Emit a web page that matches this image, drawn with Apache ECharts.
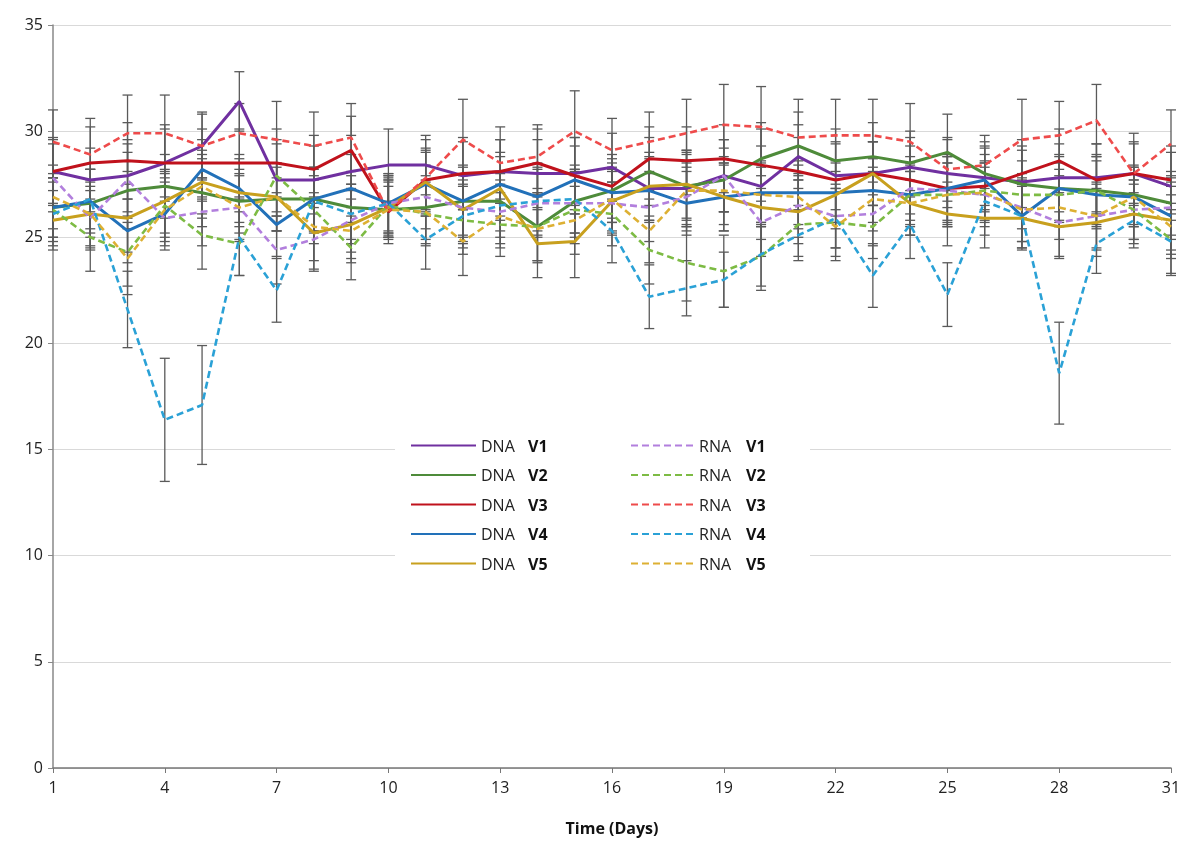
<!DOCTYPE html>
<html><head><meta charset="utf-8">
<script src="https://cdn.jsdelivr.net/npm/echarts@6/dist/echarts.min.js"></script>
<style>html,body{margin:0;padding:0;background:#fff}#c{width:1184px;height:846px}</style>
</head><body><div id="c"></div>
<script>
const days = [1,2,3,4,5,6,7,8,9,10,11,12,13,14,15,16,17,18,19,20,21,22,23,24,25,26,27,28,29,30,31];
const yTicks = [0,5,10,15,20,25,30,35];
const seriesNames = ['DNA V1','DNA V2','DNA V3','DNA V4','DNA V5','RNA V1','RNA V2','RNA V3','RNA V4','RNA V5'];

const dnaV1 = [28.1,27.7,27.9,28.5,29.3,31.4,27.7,27.7,28.1,28.4,28.4,27.9,28.1,28.0,28.0,28.3,27.3,27.3,27.9,27.4,28.8,27.9,28.0,28.3,28.0,27.8,27.6,27.8,27.8,28.0,27.4];
const dnaV2 = [26.4,26.6,27.2,27.4,27.1,26.7,26.8,26.8,26.4,26.3,26.4,26.7,26.7,25.5,26.7,27.2,28.1,27.4,27.7,28.7,29.3,28.6,28.8,28.5,29.0,28.0,27.5,27.3,27.2,27.0,26.6];
const dnaV3 = [28.1,28.5,28.6,28.5,28.5,28.5,28.5,28.2,29.1,26.2,27.7,28.0,28.1,28.5,27.9,27.4,28.7,28.6,28.7,28.4,28.1,27.7,28.0,27.7,27.3,27.4,28.0,28.6,27.7,28.0,27.7];
const dnaV4 = [26.4,26.7,25.3,26.1,28.2,27.3,25.6,26.8,27.3,26.6,27.5,26.7,27.5,26.9,27.7,27.1,27.2,26.6,26.9,27.1,27.1,27.1,27.2,27.0,27.3,27.7,26.0,27.3,27.0,26.9,26.0];
const dnaV5 = [25.8,26.1,25.9,26.7,27.6,27.1,26.9,25.2,25.6,26.4,27.6,26.3,27.3,24.7,24.8,26.7,27.4,27.5,26.9,26.4,26.2,27.0,28.0,26.6,26.1,25.9,25.9,25.5,25.7,26.1,25.8];
const rnaV1 = [27.8,25.9,27.7,25.9,26.2,26.4,24.4,24.9,25.8,26.6,26.9,26.4,26.2,26.6,26.6,26.6,26.4,26.9,27.9,25.7,26.5,26.0,26.1,27.3,27.2,27.0,26.4,25.7,26.0,26.3,26.4];
const rnaV2 = [26.3,25.0,24.3,26.5,25.1,24.7,27.9,26.3,24.5,26.5,26.1,25.8,25.6,25.5,26.3,26.1,24.4,23.8,23.4,24.1,25.6,25.7,25.5,27.0,27.0,27.2,27.0,27.0,27.2,26.3,24.9];
const rnaV3 = [29.5,28.9,29.9,29.9,29.3,29.9,29.6,29.3,29.7,26.2,27.8,29.6,28.5,28.8,30.0,29.1,29.5,29.9,30.3,30.2,29.7,29.8,29.8,29.5,28.2,28.4,29.6,29.8,30.5,28.0,29.4];
const rnaV4 = [26.1,26.8,21.6,16.4,17.1,25.0,22.5,26.7,26.1,26.6,24.9,26.0,26.5,26.7,26.8,25.3,22.2,22.6,23.0,24.2,25.1,25.9,23.2,25.6,22.3,26.7,26.0,18.6,24.7,25.8,24.8];
const rnaV5 = [26.9,26.1,24.0,26.3,27.4,26.4,26.9,25.5,25.3,26.3,26.2,24.8,26.0,25.4,25.8,26.8,25.3,27.2,27.2,27.0,26.9,25.5,26.8,26.6,27.0,27.1,26.3,26.4,26.0,26.9,25.5];

const errDnaV1 = [1.6,1.5,1.7,1.6,1.5,1.4,1.7,1.6,1.7,1.7,1.4,1.6,1.5,1.6,1.7,1.6,1.5,1.8,1.7,1.9,1.5,1.6,1.5,1.4,1.6,1.5,1.7,1.6,1.6,1.4,1.6];
const errDnaV2 = [1.4,1.6,1.8,1.5,1.6,1.5,1.5,1.5,1.5,1.3,1.5,1.7,1.4,1.6,1.5,1.5,1.6,1.6,1.5,1.7,1.6,1.5,1.6,1.5,1.8,1.5,1.6,1.6,1.7,1.4,1.5];
const errDnaV3 = [1.5,1.7,1.8,1.8,1.6,1.6,1.6,1.6,1.6,1.5,1.5,1.7,1.5,1.6,1.8,1.5,1.5,1.6,1.6,1.7,1.6,1.7,1.5,1.6,1.6,1.5,1.6,1.5,1.7,1.5,1.6];
const errDnaV4 = [1.4,1.5,1.5,1.5,1.4,1.6,1.5,1.5,1.6,1.4,1.5,1.6,1.5,1.6,1.6,1.4,1.5,1.5,1.6,1.5,1.5,1.4,1.5,1.4,1.5,1.5,1.5,1.5,1.6,1.4,1.6];
const errDnaV5 = [1.4,1.5,1.6,1.5,1.5,1.6,1.6,1.7,1.6,1.4,1.5,1.6,1.5,1.6,1.7,1.5,1.6,1.6,1.6,1.5,1.5,1.6,1.5,1.5,1.5,1.4,1.5,1.5,1.6,1.4,1.6];
const errRnaV1 = [1.6,1.5,1.7,1.5,1.6,1.5,1.6,1.5,1.5,1.4,1.5,1.6,1.5,1.6,1.6,1.5,1.6,1.6,1.7,1.6,1.5,1.5,1.5,1.5,1.6,1.5,1.6,1.6,1.5,1.4,1.5];
const errRnaV2 = [1.5,1.6,1.6,1.5,1.6,1.5,1.7,1.6,1.5,1.4,1.5,1.6,1.5,1.6,1.6,1.5,1.6,1.8,1.7,1.6,1.5,1.6,1.5,1.5,1.5,1.4,1.6,1.5,1.6,1.4,1.7];
const errRnaV3 = [1.5,1.7,1.8,1.8,1.6,1.4,1.8,1.6,1.6,1.2,1.8,1.9,1.7,1.5,1.9,1.5,1.4,1.6,1.9,1.9,1.8,1.7,1.7,1.8,1.5,1.4,1.9,1.6,1.7,1.9,1.6];
const errRnaV4 = [1.5,1.4,1.8,2.9,2.8,1.8,1.5,1.5,1.4,1.3,1.4,1.5,1.5,1.6,1.6,1.5,1.5,1.3,1.3,1.5,1.2,1.4,1.5,1.6,1.5,1.6,1.5,2.4,1.4,1.3,1.5];
const errRnaV5 = [1.5,1.6,1.7,1.5,1.5,1.6,1.6,1.6,1.5,1.4,1.5,1.6,1.5,1.6,1.6,1.5,1.5,1.7,1.6,1.5,1.5,1.6,1.5,1.5,1.5,1.4,1.5,1.5,1.6,1.4,1.5];

const values = [dnaV1,dnaV2,dnaV3,dnaV4,dnaV5,rnaV1,rnaV2,rnaV3,rnaV4,rnaV5];
const errors = [errDnaV1,errDnaV2,errDnaV3,errDnaV4,errDnaV5,errRnaV1,errRnaV2,errRnaV3,errRnaV4,errRnaV5];
const colors = ['#7030A0','#4E8B3A','#C0121C','#2271B9','#C8A01E','#B27FDD','#7DBB44','#EE4B4B','#2AA1D6','#DDB033'];

const FONT = 'Open Sans';

function errRender(params, api) {
  const x = api.value(0), lo = api.value(1), hi = api.value(2);
  const p1 = api.coord([x, hi]);
  const p2 = api.coord([x, lo]);
  const w = 5;
  const st = {stroke: '#5a5a5a', lineWidth: 1.3};
  return {type: 'group', children: [
    {type: 'line', shape: {x1: p1[0], y1: p1[1], x2: p2[0], y2: p2[1]}, style: st},
    {type: 'line', shape: {x1: p1[0]-w, y1: p1[1], x2: p1[0]+w, y2: p1[1]}, style: st},
    {type: 'line', shape: {x1: p2[0]-w, y1: p2[1], x2: p2[0]+w, y2: p2[1]}, style: st}
  ]};
}

const series = [];
seriesNames.forEach((n, i) => {
  series.push({
    name: 'err ' + n, type: 'custom', renderItem: errRender, z: 1, silent: true,
    data: days.map((d, k) => [d, values[i][k] - errors[i][k], values[i][k] + errors[i][k]])
  });
});
seriesNames.forEach((n, i) => {
  const dashed = n.startsWith('RNA');
  series.push({
    name: n, type: 'line', symbol: 'none', z: 3,
    color: colors[i],
    lineStyle: {color: colors[i], width: dashed ? 2.6 : 3, type: dashed ? [7, 4] : 'solid'},
    data: days.map((d, k) => [d, values[i][k]])
  });
});

const legendRich = {
  a: {fontFamily: FONT, fontSize: 16, color: '#222', width: 47, padding: [3, 0, 0, 0]},
  b: {fontFamily: FONT, fontSize: 16, fontWeight: 'bold', color: '#111', padding: [3, 0, 0, 0]}
};
const legendFmt = name => {
  const parts = name.split(' ');
  return '{a|' + parts[0] + '}{b|' + parts[1] + '}';
};
const legendBase = {
  orient: 'vertical', top: 434, itemHeight: 14, itemGap: 13.5,
  formatter: legendFmt, textStyle: {rich: legendRich}, z: 5,
  itemStyle: {opacity: 0, borderWidth: 0}
};

const chart = echarts.init(document.getElementById('c'), null, {renderer: 'canvas'});
chart.setOption({
  backgroundColor: '#fff',
  animation: false,
  grid: {left: 53, right: 13, top: 25, bottom: 78, containLabel: false},
  xAxis: {
    type: 'value', min: 1, max: 31, interval: 3,
    name: 'Time (Days)', nameLocation: 'middle', nameGap: 53,
    nameTextStyle: {fontFamily: FONT, fontSize: 16, fontWeight: 'bold', color: '#111'},
    axisLine: {lineStyle: {color: '#777', width: 1.5}},
    axisTick: {show: true, length: 5, lineStyle: {color: '#777'}},
    axisLabel: {fontFamily: FONT, fontSize: 16, color: '#222', margin: 12},
    splitLine: {show: false}
  },
  yAxis: {
    type: 'value', min: 0, max: 35, interval: 5,
    axisLine: {show: true, lineStyle: {color: '#888', width: 1.5}},
    axisTick: {show: true, length: 5, lineStyle: {color: '#888'}},
    axisLabel: {fontFamily: FONT, fontSize: 16, color: '#222', margin: 10,
      formatter: v => yTicks.includes(v) ? String(v) : ''},
    splitLine: {show: true, lineStyle: {color: '#d9d9d9', width: 1.2}}
  },
  graphic: [{type: 'rect', left: 395, top: 426, z: 2,
    shape: {width: 415, height: 160}, style: {fill: '#fff'}}],
  legend: [
    Object.assign({}, legendBase, {data: seriesNames.slice(0, 5), left: 405, itemWidth: 65}),
    Object.assign({}, legendBase, {data: seriesNames.slice(5), left: 625, itemWidth: 63})
  ],
  series: series
});
</script></body></html>
